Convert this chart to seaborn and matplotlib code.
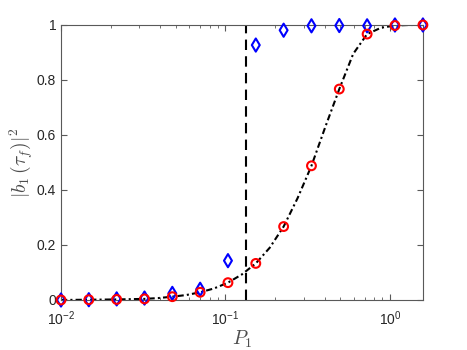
import numpy as np
import pandas as pd
import seaborn as sns
import matplotlib.pyplot as plt

# sample points (log-spaced P1)
p1 = [0.01, 0.01476, 0.0218, 0.03218, 0.0475, 0.07013, 0.1035, 0.1528,
      0.2256, 0.3331, 0.4917, 0.7259, 1.0716, 1.585]
red_vals = [0.000, 0.001, 0.002, 0.004, 0.012, 0.028, 0.063, 0.133,
            0.267, 0.488, 0.767, 0.967, 0.998, 1.000]
blue_vals = [0.000, 0.001, 0.004, 0.007, 0.024, 0.039, 0.143, 0.927,
             0.981, 0.997, 0.998, 0.997, 1.000, 1.000]

# dash-dot curve
curve_p = [0.01, 0.01215, 0.01476, 0.01793, 0.0218, 0.02648, 0.03218, 0.0391,
           0.0475, 0.0577, 0.07013, 0.0852, 0.1035, 0.1258, 0.1528, 0.1857,
           0.2256, 0.2741, 0.3331, 0.4047, 0.4917, 0.5974, 0.7259, 0.8819,
           1.0716, 1.302, 1.585]
curve_vals = [0.000, 0.0005, 0.001, 0.0015, 0.002, 0.003, 0.004, 0.007,
              0.012, 0.018, 0.028, 0.042, 0.063, 0.093, 0.133, 0.19,
              0.267, 0.37, 0.488, 0.63, 0.767, 0.895, 0.967, 0.99,
              0.998, 1.0, 1.0]

p_crit = 0.133

yticks = [0, 0.2, 0.4, 0.6, 0.8, 1]
ytick_labels = ["0", "0.2", "0.4", "0.6", "0.8", "1"]
xticks = [0.01, 0.1, 1]
xtick_labels = [r"$\mathregular{10^{-2}}$", r"$\mathregular{10^{-1}}$", r"$\mathregular{10^{0}}$"]

sns.set_style("ticks")
plt.rcParams["font.family"] = ["Liberation Sans", "DejaVu Sans"]
plt.rcParams["mathtext.fontset"] = "cm"

fig = plt.figure(figsize=(4.67, 3.5), dpi=100)
ax = fig.add_axes([0.1306, 0.1429, 0.775, 0.7857])

curve = pd.DataFrame({"P1": curve_p, "b": curve_vals})
sns.lineplot(data=curve, x="P1", y="b", ax=ax, color="black", lw=1.5,
             linestyle=(0, (3, 1.5, 1, 1.5)), zorder=2)
ax.axvline(p_crit, color="black", lw=1.5, linestyle=(0, (5, 3)), zorder=2)

sns.scatterplot(x=p1, y=blue_vals, ax=ax, marker="d", s=45, facecolors="none",
                edgecolors="blue", linewidths=1.5, clip_on=False, zorder=3)
sns.scatterplot(x=p1, y=red_vals, ax=ax, marker="o", s=40, facecolors="none",
                edgecolors="red", linewidths=1.5, clip_on=False, zorder=4)

ax.set_xscale("log")
ax.set_xlim(0.01, 1.585)
ax.set_ylim(0, 1)
ax.set_xticks(xticks)
ax.set_xticklabels(xtick_labels)
ax.set_yticks(yticks)
ax.set_yticklabels(ytick_labels)

gray = "0.35"
for s in ax.spines.values():
    s.set_visible(True)
    s.set_color(gray)
    s.set_linewidth(0.8)
ax.tick_params(which="both", direction="in", top=True, right=True,
               colors=gray, labelcolor="0.15", labelsize=10)
ax.tick_params(which="major", length=4)
ax.tick_params(which="minor", length=2)
ax.tick_params(axis="x", which="major", pad=7)
ax.tick_params(axis="y", which="minor", left=False, right=False)

ax.set_xlabel(r"$P_1$", fontsize=14, color="0.3", labelpad=0)
ax.set_ylabel(r"$|b_1\,(\tau_f)|^2$", fontsize=14, color="0.3", labelpad=1)

fig.savefig("out.png", dpi=100)
